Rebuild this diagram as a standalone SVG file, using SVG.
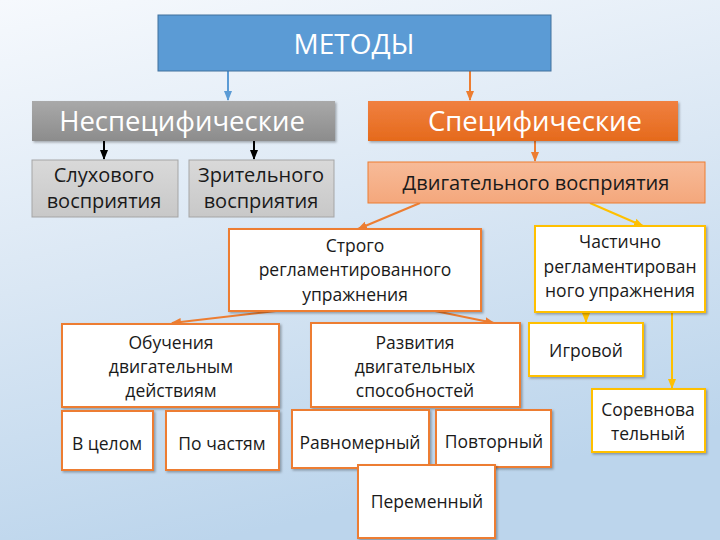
<svg xmlns="http://www.w3.org/2000/svg" width="720" height="540" viewBox="0 0 720 540">
<defs>
<linearGradient id="bg" x1="0" y1="0" x2="0.3" y2="1">
<stop offset="0" stop-color="#f6f9fd"/>
<stop offset="0.5" stop-color="#dae7f4"/>
<stop offset="1" stop-color="#bcd5ec"/>
</linearGradient>
<linearGradient id="gray" x1="0" y1="0" x2="0" y2="1">
<stop offset="0" stop-color="#a9a9a9"/>
<stop offset="1" stop-color="#8c8c8c"/>
</linearGradient>
<linearGradient id="orange" x1="0" y1="0" x2="0" y2="1">
<stop offset="0" stop-color="#f08040"/>
<stop offset="1" stop-color="#e56a1c"/>
</linearGradient>
<linearGradient id="salmon" x1="0" y1="0" x2="0" y2="1">
<stop offset="0" stop-color="#f7bb98"/>
<stop offset="1" stop-color="#f4a77c"/>
</linearGradient>
<linearGradient id="lgray" x1="0" y1="0" x2="0" y2="1">
<stop offset="0" stop-color="#d9d9d9"/>
<stop offset="1" stop-color="#c8c8c8"/>
</linearGradient>
<marker id="aBlue" viewBox="0 0 10 10" refX="9" refY="5" markerWidth="5" markerHeight="5" orient="auto"><path d="M0,1 L10,5 L0,9 z" fill="#5b9bd5"/></marker>
<marker id="aOr" viewBox="0 0 10 10" refX="9" refY="5" markerWidth="5" markerHeight="5" orient="auto"><path d="M0,1 L10,5 L0,9 z" fill="#ed7d31"/></marker>
<marker id="aYel" viewBox="0 0 10 10" refX="9" refY="5" markerWidth="5" markerHeight="5" orient="auto"><path d="M0,1 L10,5 L0,9 z" fill="#ffc000"/></marker>
<marker id="aBlk" viewBox="0 0 10 10" refX="9" refY="5" markerWidth="5" markerHeight="5" orient="auto"><path d="M0,1 L10,5 L0,9 z" fill="#000"/></marker>
<filter id="sh" x="-10%" y="-10%" width="130%" height="130%"><feDropShadow dx="1.5" dy="1.5" stdDeviation="1" flood-color="#000" flood-opacity="0.3"/></filter>
</defs>
<style>
text{font-family:"Open Sans","Liberation Sans",sans-serif;text-anchor:middle;fill:#1a1a1a}
.w{fill:#fff}
.ob{fill:#fff;stroke:#ed7d31;stroke-width:2;filter:url(#sh)}
.yb{fill:#fff;stroke:#ffc000;stroke-width:2;filter:url(#sh)}
.t{font-size:17.5px}
.m{font-size:20px}
.c{fill:none;stroke-width:2}
</style>
<rect width="720" height="540" fill="url(#bg)"/>

<g id="connectors">
<line class="c" x1="228" y1="71" x2="228" y2="100" stroke="#5b9bd5" marker-end="url(#aBlue)"/>
<line class="c" x1="470" y1="71" x2="470" y2="100" stroke="#ed7d31" marker-end="url(#aOr)"/>
<line class="c" x1="104" y1="141" x2="104" y2="159" stroke="#000" marker-end="url(#aBlk)"/>
<line class="c" x1="254" y1="141" x2="254" y2="159" stroke="#000" marker-end="url(#aBlk)"/>
<line class="c" x1="535" y1="141" x2="535" y2="161" stroke="#ed7d31" marker-end="url(#aOr)"/>
<line class="c" x1="420" y1="203" x2="358" y2="229" stroke="#ed7d31" marker-end="url(#aOr)"/>
<line class="c" x1="590" y1="203" x2="643" y2="226" stroke="#ffc000" marker-end="url(#aYel)"/>
<line class="c" x1="276" y1="311" x2="172" y2="323" stroke="#ed7d31" marker-end="url(#aOr)"/>
<line class="c" x1="435" y1="311" x2="494" y2="323" stroke="#ed7d31" marker-end="url(#aOr)"/>
<line class="c" x1="586" y1="312" x2="586" y2="322" stroke="#ffc000" marker-end="url(#aYel)"/>
<line class="c" x1="672" y1="312" x2="672" y2="388" stroke="#ffc000" marker-end="url(#aYel)"/>
</g>

<g id="metody">
<rect x="158" y="15" width="393" height="56" fill="#5b9bd5" stroke="#41719c" stroke-width="1"/>
<text x="354" y="54" class="w" font-size="28">МЕТОДЫ</text>
</g>
<g id="nespec">
<rect x="32" y="101" width="303" height="40" fill="url(#gray)" filter="url(#sh)"/>
<text x="182" y="131" class="w" font-size="27.5">Неспецифические</text>
</g>
<g id="spec">
<rect x="368" y="101" width="310" height="40" fill="url(#orange)" filter="url(#sh)"/>
<text x="535" y="131" class="w" font-size="27.5">Специфические</text>
</g>
<g id="sluh">
<rect x="32" y="160" width="146" height="57" fill="url(#lgray)" stroke="#a5a5a5" stroke-width="1"/>
<text x="104" y="182" class="m">Слухового</text>
<text x="104" y="208" class="m">восприятия</text>
</g>
<g id="zrit">
<rect x="189" y="160" width="145" height="57" fill="url(#lgray)" stroke="#a5a5a5" stroke-width="1"/>
<text x="261" y="182" class="m">Зрительного</text>
<text x="261" y="208" class="m">восприятия</text>
</g>
<g id="dvig">
<rect x="368" y="162" width="337" height="41" fill="url(#salmon)" stroke="#ed7d31" stroke-width="1"/>
<text x="536" y="190" class="m">Двигательного восприятия</text>
</g>
<g id="strogo">
<rect x="229" y="229" width="252" height="82" class="ob"/>
<text x="355" y="252" class="t">Строго</text>
<text x="355" y="276" class="t">регламентированного</text>
<text x="355" y="301" class="t">упражнения</text>
</g>
<g id="chast">
<rect x="535" y="226" width="170" height="86" class="yb"/>
<text x="620" y="248" class="t">Частично</text>
<text x="620" y="273" class="t">регламентирован</text>
<text x="620" y="297" class="t">ного упражнения</text>
</g>
<g id="obuch">
<rect x="62" y="324" width="217" height="83" class="ob"/>
<text x="171" y="349" class="t">Обучения</text>
<text x="171" y="373" class="t">двигательным</text>
<text x="171" y="397" class="t">действиям</text>
</g>
<g id="razv">
<rect x="311" y="323" width="209" height="84" class="ob"/>
<text x="415" y="349" class="t">Развития</text>
<text x="415" y="373" class="t">двигательных</text>
<text x="415" y="397" class="t">способностей</text>
</g>
<g id="igrovoy">
<rect x="529" y="323" width="114" height="53" class="yb"/>
<text x="586" y="357" class="t">Игровой</text>
</g>
<g id="sorevn">
<rect x="592" y="389" width="113" height="63" class="yb"/>
<text x="648" y="416" class="t">Соревнова</text>
<text x="648" y="440" class="t">тельный</text>
</g>
<g id="vcelom">
<rect x="62" y="411" width="91" height="59" class="ob"/>
<text x="107" y="450" class="t">В целом</text>
</g>
<g id="pochastyam">
<rect x="166" y="411" width="113" height="59" class="ob"/>
<text x="222" y="450" class="t">По частям</text>
</g>
<g id="ravnom">
<rect x="292" y="410" width="137" height="58" class="ob"/>
<text x="360" y="449" class="t">Равномерный</text>
</g>
<g id="povtor">
<rect x="436" y="410" width="115" height="57" class="ob"/>
<text x="494" y="448" class="t">Повторный</text>
</g>
<g id="perem">
<rect x="358" y="465" width="137" height="73" class="ob"/>
<text x="427" y="508" class="t">Переменный</text>
</g>
</svg>
